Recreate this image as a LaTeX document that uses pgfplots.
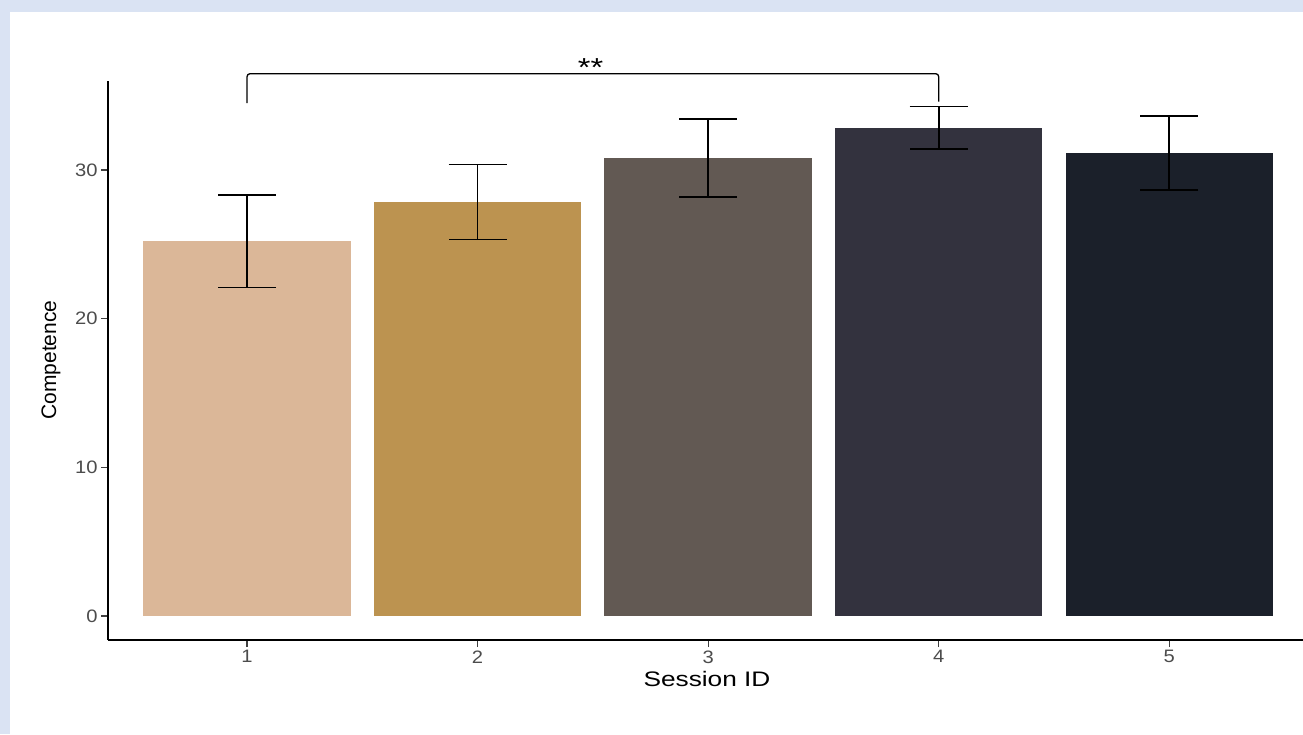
\documentclass[border=0pt]{standalone}
\usepackage{pgfplots}
\pgfplotsset{compat=1.18}
\usepackage{fontspec}
\setmainfont{Liberation Sans}
\newfontfamily\widesans[FakeStretch=1.25]{Liberation Sans}
\newfontfamily\tickfont[FakeStretch=1.12]{Liberation Sans}
\definecolor{bgblue}{HTML}{DAE3F3}
\definecolor{cA}{RGB}{219,183,152}
\definecolor{cB}{RGB}{188,147,80}
\definecolor{cC}{RGB}{98,89,83}
\definecolor{cD}{RGB}{51,50,62}
\definecolor{cE}{RGB}{27,32,42}
\begin{document}
\begin{tikzpicture}
\useasboundingbox (0,0) rectangle (1303pt,-734pt);
\fill[bgblue] (0,0) rectangle (1303pt,-734pt);
\fill[white] (10pt,-12pt) rectangle (1303pt,-734pt);
\begin{axis}[
  at={(108pt,-640pt)}, anchor=south west, scale only axis,
  width=1195pt, height=559pt,
  xmin=0.397, xmax=5.58, ymin=-1.61, ymax=35.98,
  axis lines=left, axis line style={-, line width=1.3pt, black},
  xtick={1,2,3,4,5}, ytick={0,10,20,30},
  tick align=outside, major tick length=7pt,
  tick style={line width=1.3pt, black!75},
  ticklabel style={font=\tickfont\fontsize{18}{18}\selectfont, text=black!70},
  /pgf/number format/assume math mode=true,
  clip=false,
  ybar, bar width=0.9, bar shift=0pt,
  error bars/y dir=both, error bars/y explicit,
  error bars/error mark=|,
  error bars/error bar style={line width=1.6pt, black},
  error bars/error mark options={line width=1.6pt, black, mark size=29pt},
]
\addplot[fill=cA, draw=none] coordinates {(1,25.2) +- (0,3.1)};
\addplot[fill=cB, draw=none] coordinates {(2,27.84) +- (0,2.52)};
\addplot[fill=cC, draw=none] coordinates {(3,30.8) +- (0,2.62)};
\addplot[fill=cD, draw=none] coordinates {(4,32.84) +- (0,1.43)};
\addplot[fill=cE, draw=none] coordinates {(5,31.14) +- (0,2.48)};
\draw[line width=1.3pt, rounded corners=3pt] (axis cs:1,34.5) -- (axis cs:1,36.47) -- (axis cs:4,36.47) -- (axis cs:4,34.6);
\node[font=\widesans\fontsize{26}{26}\selectfont, anchor=base] at (axis cs:2.49,36.3) {**};
\end{axis}
\node[rotate=90, font=\fontsize{21}{21}\selectfont] at (51pt,-360pt) {Competence};
\node[font=\widesans\fontsize{21}{21}\selectfont] at (707pt,-679pt) {Session ID};
\end{tikzpicture}
\end{document}
